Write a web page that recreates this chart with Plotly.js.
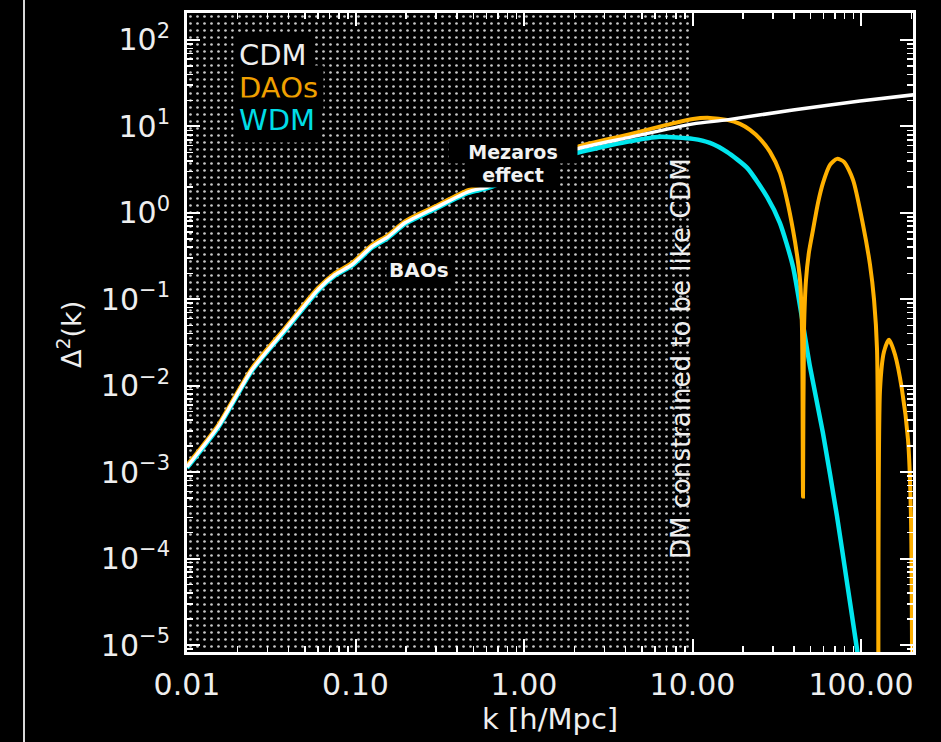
<!DOCTYPE html>
<html>
<head>
<meta charset="utf-8">
<script src="https://cdn.plot.ly/plotly-3.0.1.min.js"></script>
<style>html,body{margin:0;padding:0;background:#000;}#plot{width:941px;height:742px;}</style>
</head>
<body>
<div id="plot"></div>
<script>
// ---- data ----
const kCDM = [0.01, 0.0153, 0.0243, 0.0382, 0.0599, 0.0755, 0.0953, 0.125, 0.156, 0.197, 0.297, 0.466, 0.611, 1.0, 1.4, 2.07, 4.08, 10.1, 16.0, 39.5, 98.6, 205];
const dCDM = [1.15e-3, 3.36e-3, 0.0153, 0.0444, 0.129, 0.192, 0.251, 0.405, 0.528, 0.766, 1.14, 1.75, 2.0, 3.0, 4.0, 5.5, 7.36, 10.7, 11.9, 15.5, 19.7, 23.2];

const kDAO = [0.01, 0.0153, 0.0243, 0.0382, 0.0599, 0.0755, 0.0953, 0.125, 0.156, 0.197, 0.297, 0.466, 0.611, 1.0, 1.4, 2.07, 4.08, 7.0,
  10.07, 12.70, 16.02, 19.13, 21.94, 25.16, 28.84, 33.07, 36.38, 39.48, 41.71, 43.45, 44.67, 45.28,
  45.89, 47.17, 49.15, 51.90, 55.58, 59.51, 65.46, 72.05, 79.26, 89.66, 102.8, 113.1, 119.5, 124.5, 127.0,
  129.7, 136.9, 146.6, 159.2, 175.1, 190.1, 198.1, 202.2];
const dDAO = [1.2e-3, 3.5e-3, 0.016, 0.0465, 0.135, 0.201, 0.263, 0.424, 0.553, 0.80, 1.19, 1.83, 2.09, 3.15, 4.2, 5.8, 7.98, 10.4,
  12.21, 12.54, 11.89, 10.69, 9.11, 7.17, 5.07, 2.90, 1.41, 0.636, 0.327, 0.168, 0.0444, 5.21e-4,
  0.0444, 0.168, 0.354, 0.636, 1.305, 2.22, 3.59, 4.21, 3.89, 2.41, 0.727, 0.2505, 0.0987, 0.0261, 1e-8,
  0.00899, 0.0247, 0.0340, 0.0228, 0.00899, 0.00238, 2.82e-4, 1e-8];

const kWDM = [0.01, 0.0153, 0.0243, 0.0382, 0.0599, 0.0755, 0.0953, 0.125, 0.156, 0.197, 0.297, 0.466, 0.611, 1.0, 1.4, 2.07, 4.08, 6.41, 10.07, 12.7, 16.0, 21.1, 27.7, 33.0, 39.5, 49.8, 59.4, 72.1, 82.6, 94.7, 100];
const dWDM = [1.12e-3, 3.27e-3, 0.0149, 0.0432, 0.125, 0.187, 0.244, 0.394, 0.514, 0.745, 1.11, 1.70, 1.94, 2.85, 3.7, 4.94, 6.62, 7.57, 7.17, 6.44, 5.07, 3.31, 1.53, 0.766, 0.238, 0.0166, 2.86e-3, 3.06e-4, 5.28e-5, 8.9e-6, 4e-6];

const kConstrained = 10;            // DM constrained to be like CDM below this k
const xTickVals = [0.01, 0.1, 1, 10, 100];
const xTickText = ['0.01', '0.10', '1.00', '10.00', '100.00'];
const yTickExp = [-5, -4, -3, -2, -1, 0, 1, 2];

const seriesNames = ['CDM', 'DAOs', 'WDM'];
const seriesColors = ['#ffffff', '#ffb000', '#00e6ee'];
const legendTextColors = ['#eeeeee', '#f0a000', '#00dde6'];

// ---- helpers for axis ticks ----
const yTickVals = yTickExp.map(e => Math.pow(10, e));
const yTickText = yTickExp.map(e => '10<sup>' + (e < 0 ? '\u2212' + (-e) : e) + '</sup>');
function allTicks(lo, hi, majorVals, majorText) {
  const vals = [], text = [];
  for (let e = lo; e <= hi; e++) for (let d = 1; d <= 9; d++) {
    const v = d * Math.pow(10, e);
    const idx = majorVals.findIndex(m => Math.abs(m - v) / v < 1e-9);
    vals.push(v); text.push(idx >= 0 ? majorText[idx] : '');
  }
  return { vals, text };
}
const xAll = allTicks(-2, 2, xTickVals, xTickText);
const yAll = allTicks(-6, 2, yTickVals, yTickText);

const FONT = 'DejaVu Sans, Verdana, sans-serif';
const XRANGE = [-2, 2.3086], YRANGE = [-5.081, 2.312];

const traces = [
  { // constrained region (hatched)
    x: [1e-3, kConstrained, kConstrained, 1e-3],
    y: [1e-8, 1e-8, 1e4, 1e4],
    mode: 'none', fill: 'toself', fillcolor: 'rgba(0,0,0,0)',
    fillpattern: { shape: '.', fgcolor: '#c8c8c8', bgcolor: '#000000', size: 7, solidity: 0.12 },
    hoverinfo: 'skip', showlegend: false
  },
  { x: kWDM, y: dWDM, mode: 'lines', name: 'WDM',
    line: { color: seriesColors[2], width: 4.5, shape: 'spline', smoothing: 0.6 }, showlegend: false },
  { x: kDAO, y: dDAO, mode: 'lines', name: 'DAOs',
    line: { color: seriesColors[1], width: 4, shape: 'spline', smoothing: 0.7 }, showlegend: false },
  { x: kCDM, y: dCDM, mode: 'lines', name: 'CDM',
    line: { color: seriesColors[0], width: 3.5, shape: 'spline', smoothing: 0.6 }, showlegend: false },
  // trace (one point far outside the range) that carries the major-tick overlay axes
  { x: [1e-6], y: [1e-12], xaxis: 'x2', yaxis: 'y2', mode: 'markers', marker: { size: 1, color: '#000' },
    showlegend: false, hoverinfo: 'skip' }
];

const L = 187, R = 913, T = 13, B = 652, W = 941, H = 742;
const px = x => (x - L) / (R - L);
const py = y => (B - y) / (B - T);

const annotations = [];
const legendY = [55, 88, 120];
seriesNames.forEach((n, i) => {
  annotations.push({ xref: 'paper', yref: 'paper', x: px(233), y: py(legendY[i]), xanchor: 'left', yanchor: 'middle',
    text: n, showarrow: false, font: { family: FONT, size: 29, color: legendTextColors[i] },
    bgcolor: '#000000', borderpad: 5 });
});
const labelFont = { family: 'DejaVu Sans', size: 19, color: '#f2f2f2', weight: 'bold' };
annotations.push(
  { xref: 'paper', yref: 'paper', x: px(513), y: py(151.5), text: 'Mezaros', showarrow: false,
    font: labelFont, bgcolor: '#000000', width: 126, height: 20, borderpad: 1, xanchor: 'center', yanchor: 'middle' },
  { xref: 'paper', yref: 'paper', x: px(513), y: py(174.5), text: 'effect', showarrow: false,
    font: labelFont, bgcolor: '#000000', width: 90, height: 22, borderpad: 1, xanchor: 'center', yanchor: 'middle' },
  { xref: 'paper', yref: 'paper', x: px(419), y: py(270), text: 'BAOs', showarrow: false,
    font: { family: 'DejaVu Sans', size: 20, color: '#f2f2f2', weight: 'bold' }, bgcolor: '#000000', borderpad: 2, xanchor: 'center', yanchor: 'middle' },
  { xref: 'paper', yref: 'paper', x: px(681), y: py(359), text: 'DM constrained to be like CDM', showarrow: false,
    textangle: -90, font: { family: FONT, size: 26, color: '#eeeeee' }, xanchor: 'center', yanchor: 'middle' },
  { xref: 'paper', yref: 'paper', x: px(70), y: py(335), text: '\u0394<sup>2</sup>(k)', showarrow: false,
    textangle: -90, font: { family: FONT, size: 27, color: '#eeeeee' }, xanchor: 'center', yanchor: 'middle' },
  { xref: 'paper', yref: 'paper', x: px(550), y: py(719), text: 'k [h/Mpc]', showarrow: false,
    font: { family: FONT, size: 29, color: '#eeeeee' }, xanchor: 'center', yanchor: 'middle' }
);

const axisCommon = {
  type: 'log', showgrid: false, zeroline: false,
  showline: true, linecolor: '#ffffff', linewidth: 3, mirror: 'ticks',
  ticks: 'inside', ticklen: 6, tickwidth: 1.5, tickcolor: '#ffffff',
  tickfont: { family: FONT, size: 30, color: '#eeeeee' }
};
const majorAxis = {
  type: 'log', showgrid: false, zeroline: false, showline: false, mirror: 'ticks',
  ticks: 'inside', ticklen: 13, tickwidth: 2, tickcolor: '#ffffff', showticklabels: false,
  tickmode: 'array'
};

const layout = {
  width: W, height: H,
  paper_bgcolor: '#000000', plot_bgcolor: '#000000',
  margin: { l: L, r: W - R, t: T, b: H - B, pad: 0 },
  showlegend: false,
  xaxis: Object.assign({}, axisCommon, {
    range: XRANGE, tickmode: 'array', tickvals: xAll.vals, ticktext: xAll.text, ticklabelstandoff: 4
  }),
  yaxis: Object.assign({}, axisCommon, {
    range: YRANGE, tickmode: 'array', tickvals: yAll.vals, ticktext: yAll.text, ticklabelstandoff: 8
  }),
  xaxis2: Object.assign({}, majorAxis, { range: XRANGE, overlaying: 'x', anchor: 'y2', side: 'bottom', tickvals: xTickVals }),
  yaxis2: Object.assign({}, majorAxis, { range: YRANGE, overlaying: 'y', anchor: 'x2', side: 'left', tickvals: yTickVals }),
  annotations: annotations,
  shapes: [
    { type: 'line', xref: 'paper', yref: 'paper', x0: px(24), x1: px(24), y0: py(H), y1: py(0),
      line: { color: '#d8d8d8', width: 2 } }
  ]
};

Plotly.newPlot('plot', traces, layout, { staticPlot: true, displayModeBar: false });
</script>
</body>
</html>
